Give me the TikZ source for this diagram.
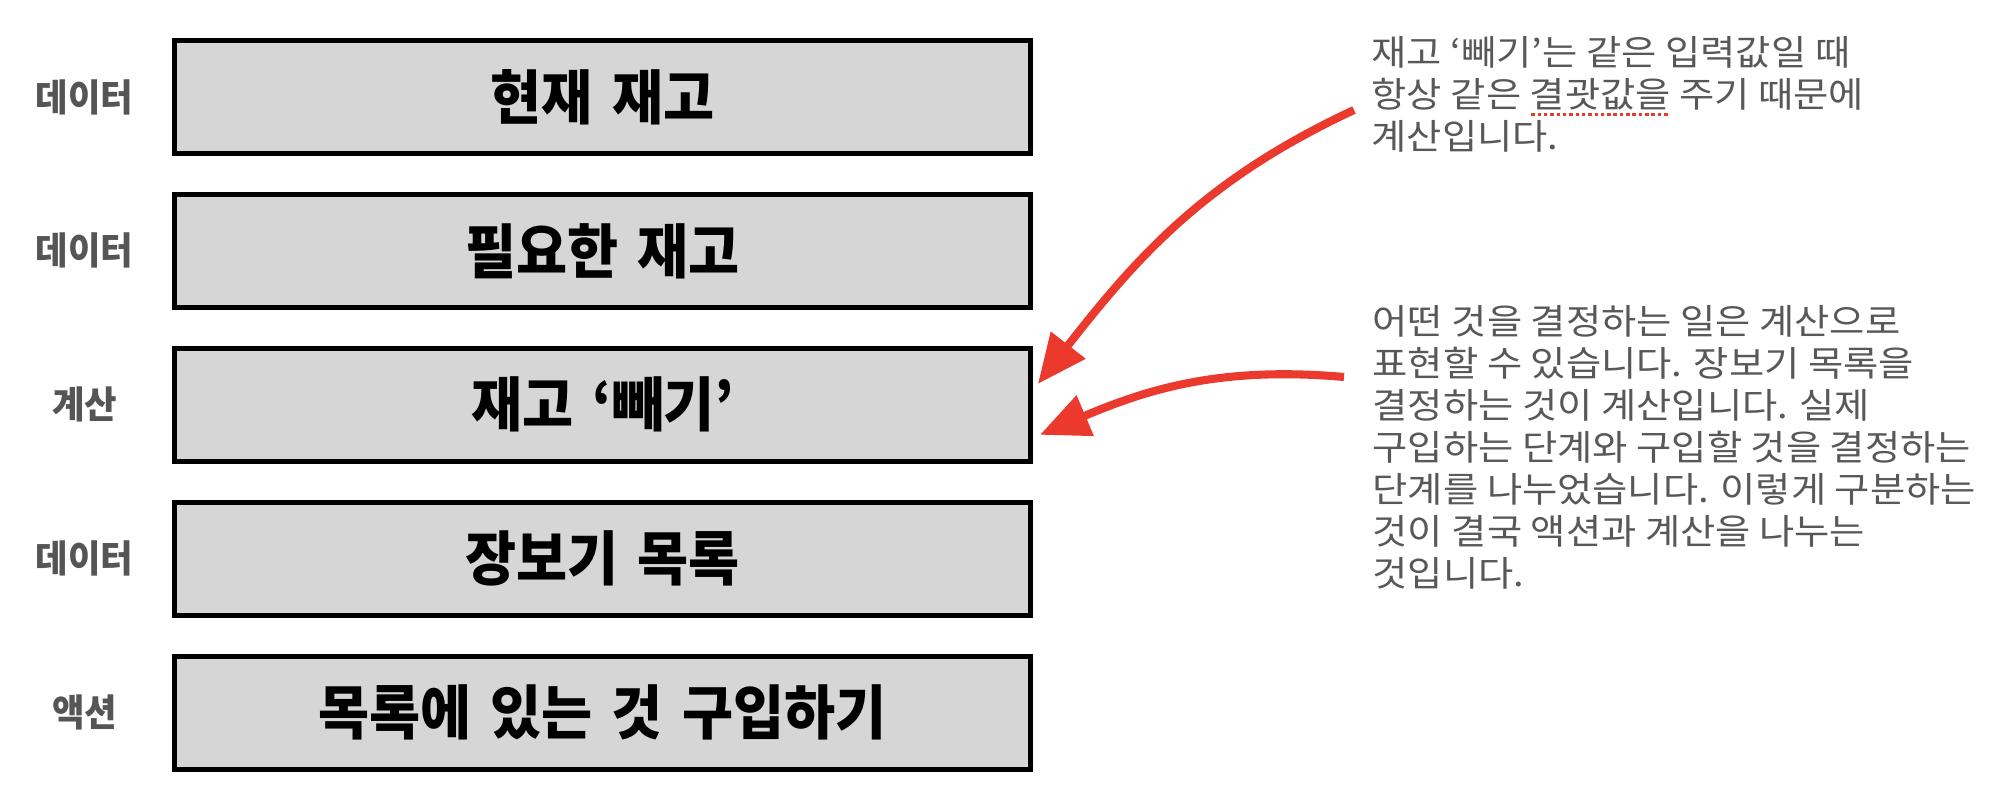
\documentclass[tikz,border=0pt]{standalone}
\usepackage{fontspec}
\usepackage{tikz}
\usetikzlibrary{arrows.meta,positioning}
\setmainfont{Noto Sans CJK KR}
\newfontfamily\condfont{Noto Sans CJK KR}[FakeStretch=0.94, WordSpace=1.5]
\newfontfamily\notefont{Noto Sans CJK KR}[FakeStretch=1.09]
\definecolor{boxfill}{RGB}{214,214,214}
\definecolor{tagtext}{RGB}{85,85,85}
\definecolor{notetext}{RGB}{88,88,88}
\definecolor{callred}{RGB}{236,57,46}
\newsavebox\typobox
\newcommand\typo[1]{\sbox\typobox{#1}\rlap{\lower2.4pt\hbox to\wd\typobox{\color{callred}\leaders\hbox{\kern0.4pt\rule{1pt}{1pt}\kern0.4pt}\hfil}}\usebox\typobox}

\begin{document}
\begin{tikzpicture}[
    x=0.1mm, y=0.1mm,
    node distance=3.6mm and 5mm,
    stage/.style={rectangle, draw=black, line width=1.4pt, fill=boxfill, align=center, minimum width=85.6mm, minimum height=11.3mm, inner sep=0pt, font=\condfont\bfseries\fontsize{16.8}{19}\selectfont},
    tag/.style={align=center, inner sep=0pt, text=tagtext, font=\condfont\bfseries\fontsize{10.7}{12}\selectfont},
    note/.style={align=left, inner sep=0pt, anchor=north west, text=notetext, font=\notefont\fontsize{10}{11.95}\selectfont},
    callout/.style={-{Triangle[length=14pt,width=12pt]}, line width=2.3pt, draw=callred}
]
\useasboundingbox (0,0) rectangle (2000,793);

\node[stage] (stock) at (602.5,696) {현재 재고};
\node[stage, below=of stock] (need) {필요한 재고};
\node[stage, below=of need] (subtract) {재고 ‘빼기’};
\node[stage, below=of subtract] (list) {장보기 목록};
\node[stage, below=of list] (buy) {목록에 있는 것 구입하기};

\node[tag, left=8.75mm of stock.west, anchor=center] (stocktag) {데이터};
\node[tag, left=8.75mm of need.west, anchor=center] (needtag) {데이터};
\node[tag, left=8.75mm of subtract.west, anchor=center] (subtracttag) {계산};
\node[tag, left=8.75mm of list.west, anchor=center] (listtag) {데이터};
\node[tag, left=8.75mm of buy.west, anchor=center] (buytag) {액션};

\node[note] (notepure) at (1371,757) {재고 ‘빼기’는 같은 입력값일 때\\
항상 같은 \typo{결괏값을} 주기 때문에\\
계산입니다.};
\node[note] (notecalc) at (1372,488) {어떤 것을 결정하는 일은 계산으로\\
표현할 수 있습니다. 장보기 목록을\\
결정하는 것이 계산입니다. 실제\\
구입하는 단계와 구입할 것을 결정하는\\
단계를 나누었습니다. 이렇게 구분하는\\
것이 결국 액션과 계산을 나누는\\
것입니다.};

\draw[callout] ([xshift=-1.7mm,yshift=-7.4mm]notepure.north west) to[out=205,in=52] ([xshift=0.5mm,yshift=-3.8mm]subtract.north east);
\draw[callout] ([xshift=-2.8mm,yshift=-7.2mm]notecalc.north west) to[out=175,in=23] ([xshift=0.7mm,yshift=-3mm]subtract.east);
\end{tikzpicture}
\end{document}
